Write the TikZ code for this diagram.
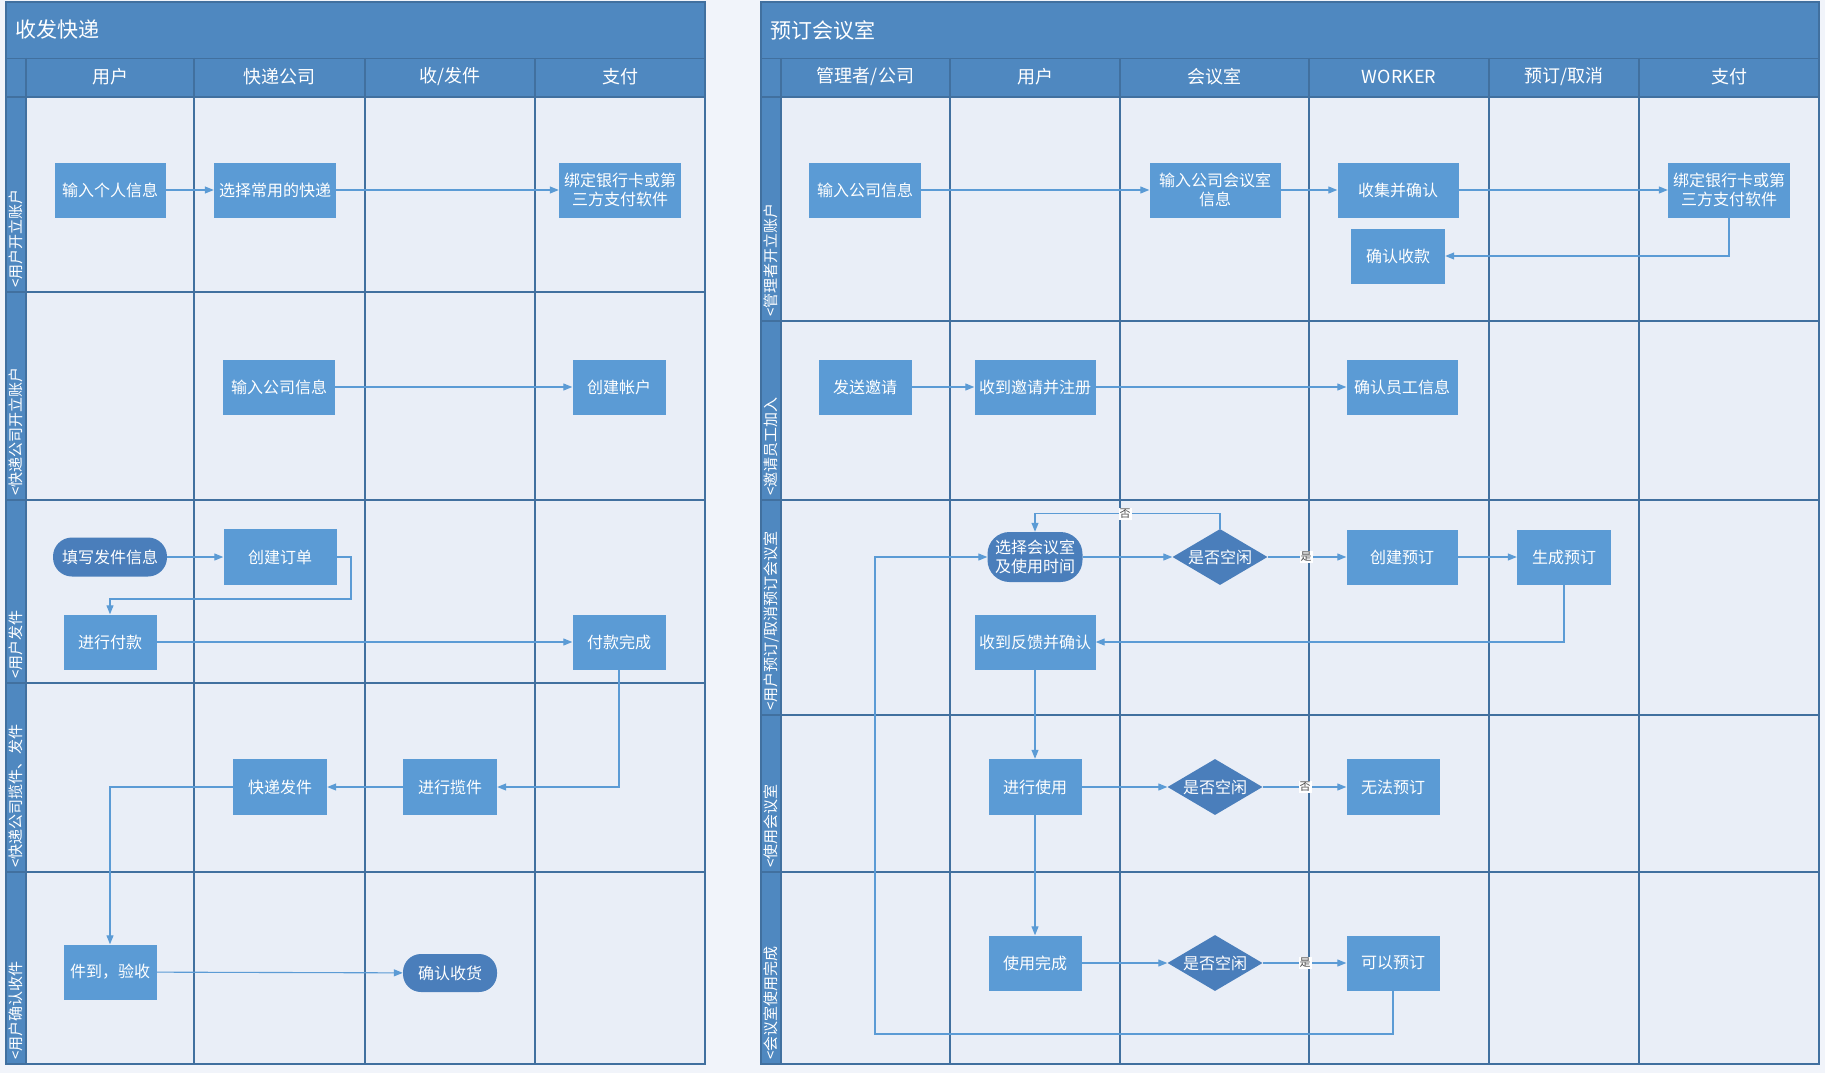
\documentclass[tikz,border=0pt]{standalone}
\usepackage{fontspec}
\setmainfont{Noto Sans CJK SC}
\usetikzlibrary{arrows.meta,shapes.geometric}
\definecolor{pagec}{HTML}{F1F4FA}
\definecolor{lanec}{HTML}{E9EEF7}
\definecolor{bandc}{HTML}{4F88C0}
\definecolor{gridc}{HTML}{41709F}
\definecolor{boxc}{HTML}{5B9BD5}
\definecolor{boxb}{HTML}{7FB0DD}
\definecolor{darkc}{HTML}{4A7EBB}
\definecolor{linec}{HTML}{5B9BD5}
\begin{document}
\begin{tikzpicture}[x=1pt,y=-1pt,
  box/.style={fill=boxc, text=white, font=\fontsize{16}{19.5}\selectfont, minimum height=55pt, inner sep=2pt, align=center},
  term/.style={fill=darkc, text=white, font=\fontsize{16}{19.5}\selectfont, inner sep=2pt, align=center},
  dia/.style={diamond, fill=darkc, text=white, font=\fontsize{16}{19.5}\selectfont, aspect=1.68, inner sep=0pt, minimum width=95pt, minimum height=56pt},
  arr/.style={draw=linec, line width=1.1pt, -{Triangle[length=9pt,width=7pt]}},
  yn/.style={fill=white, text=black!70, font=\fontsize{11}{11}\selectfont, inner sep=1pt},
  hdr/.style={text=white, font=\fontsize{18}{20}\selectfont},
  ttl/.style={text=white, font=\fontsize{21}{24}\selectfont, anchor=west},
  lanel/.style={text=white, font=\fontsize{15}{16}\selectfont, rotate=90, anchor=west, inner sep=0pt},
  gridl/.style={draw=gridc, line width=1.2pt}]
\useasboundingbox (0,0) rectangle (1825,1073);
\fill[pagec] (0,0) rectangle (1825,1073);

% ---------- left pool ----------
\fill[lanec] (26,97) rectangle (705,1064);
\fill[bandc] (6,2) rectangle (705,97);
\fill[bandc] (6,97) rectangle (26,1064);
\draw[gridc, line width=0.8pt] (6,58) -- (705,58);
\foreach \x in {26,194,365,535} \draw[gridl] (\x,58) -- (\x,1064);
\foreach \y in {97,292,500,683,872} \draw[gridl] (6,\y) -- (705,\y);
\draw[gridl] (6,2) rectangle (705,1064);
\node[ttl] (t1) at (12,30) {收发快递};
\node[hdr] (h11) at (110,77) {用户};
\node[hdr] (h12) at (279.5,77) {快递公司};
\node[hdr] (h13) at (450,77) {收/发件};
\node[hdr] (h14) at (620,77) {支付};
\node[lanel] (l11) at (16,288) {<用户开立账户};
\node[lanel] (l12) at (16,496) {<快递公司开立账户};
\node[lanel] (l13) at (16,679) {<用户发件};
\node[lanel] (l14) at (16,868) {<快递公司揽件、发件};
\node[lanel] (l15) at (16,1060) {<用户确认收件};

% ---------- right pool ----------
\fill[lanec] (781,97) rectangle (1819,1064);
\fill[bandc] (761,2) rectangle (1819,97);
\fill[bandc] (761,97) rectangle (781,1064);
\draw[gridc, line width=0.8pt] (761,58) -- (1819,58);
\foreach \x in {781,950,1120,1309,1489,1639} \draw[gridl] (\x,58) -- (\x,1064);
\foreach \y in {97,321,500,715,872} \draw[gridl] (761,\y) -- (1819,\y);
\draw[gridl] (761,2) rectangle (1819,1064);
\node[ttl] (t2) at (767,30) {预订会议室};
\node[hdr] (h21) at (865.5,77) {管理者/公司};
\node[hdr] (h22) at (1035,77) {用户};
\node[hdr] (h23) at (1214.5,77) {会议室};
\node[hdr] (h24) at (1399,77) {WORKER};
\node[hdr] (h25) at (1564,77) {预订/取消};
\node[hdr] (h26) at (1729,77) {支付};
\node[lanel] (l21) at (771,317) {<管理者开立账户};
\node[lanel] (l22) at (771,496) {<邀请员工加入};
\node[lanel] (l23) at (771,711) {<用户预订/取消预订会议室};
\node[lanel] (l24) at (771,868) {<使用会议室};
\node[lanel] (l25) at (771,1060) {<会议室使用完成};

% ---------- left nodes ----------
\node[box, minimum width=111pt] (n1) at (110,190) {输入个人信息};
\node[box, minimum width=122pt] (n2) at (275,190) {选择常用的快递};
\node[box, minimum width=122pt] (n3) at (620,190) {绑定银行卡或第\\三方支付软件};
\node[box, minimum width=112pt] (n4) at (279,387) {输入公司信息};
\node[box, minimum width=93pt] (n5) at (619,387) {创建帐户};
\node[term, minimum width=114pt, minimum height=39pt, rounded corners=19pt] (n6) at (110,557) {填写发件信息};
\node[box, minimum width=113pt, minimum height=56pt] (n7) at (280,557) {创建订单};
\node[box, minimum width=93pt] (n8) at (110,642) {进行付款};
\node[box, minimum width=93pt] (n9) at (619,642) {付款完成};
\node[box, minimum width=94pt, minimum height=56pt] (n10) at (450,787) {进行揽件};
\node[box, minimum width=94pt, minimum height=56pt] (n11) at (280,787) {快递发件};
\node[box, minimum width=93pt] (n12) at (110,972) {件到，验收};
\node[term, minimum width=94pt, minimum height=38pt, rounded corners=18pt] (n13) at (450,973) {确认收货};

\draw[arr] (n1) -- (n2);
\draw[arr] (n2) -- (n3);
\draw[arr] (n4) -- (n5);
\draw[arr] (n6) -- (n7);
\draw[arr] (n7.east) -| (351,599) -| (n8.north);
\draw[arr] (n8) -- (n9);
\draw[arr] (n9.south) |- (n10.east);
\draw[arr] (n10) -- (n11);
\draw[arr] (n11.west) -| (n12.north);
\draw[arr] (n12) -- (n13);

% ---------- right nodes ----------
\node[box, minimum width=112pt] (r1) at (865,190) {输入公司信息};
\node[box, minimum width=131pt] (r2) at (1215,190) {输入公司会议室\\信息};
\node[box, minimum width=121pt] (r3) at (1398,190) {收集并确认};
\node[box, minimum width=122pt] (r4) at (1729,190) {绑定银行卡或第\\三方支付软件};
\node[box, minimum width=94pt] (r5) at (1398,256) {确认收款};
\node[box, minimum width=93pt] (r6) at (865,387) {发送邀请};
\node[box, minimum width=121pt] (r7) at (1035,387) {收到邀请并注册};
\node[box, minimum width=111pt] (r8) at (1402,387) {确认员工信息};
\node[term, minimum width=95pt, minimum height=50pt, rounded corners=22pt] (r9) at (1035,557) {选择会议室\\及使用时间};
\node[dia] (r10) at (1220,557) {\makebox[0pt]{是否空闲}};
\node[box, minimum width=111pt] (r11) at (1402,557) {创建预订};
\node[box, minimum width=94pt] (r12) at (1564,557) {生成预订};
\node[box, minimum width=121pt] (r13) at (1035,642) {收到反馈并确认};
\node[box, minimum width=93pt, minimum height=56pt] (r14) at (1035,787) {进行使用};
\node[dia] (r15) at (1215,787) {\makebox[0pt]{是否空闲}};
\node[box, minimum width=93pt, minimum height=56pt] (r16) at (1393,787) {无法预订};
\node[box, minimum width=93pt] (r17) at (1035,963) {使用完成};
\node[dia] (r18) at (1215,963) {\makebox[0pt]{是否空闲}};
\node[box, minimum width=93pt] (r19) at (1393,963) {可以预订};

\draw[arr] (r1) -- (r2);
\draw[arr] (r2) -- (r3);
\draw[arr] (r3) -- (r4);
\draw[arr] (r4.south) |- (r5.east);
\draw[arr] (r6) -- (r7);
\draw[arr] (r7) -- (r8);
\draw[arr] (r9) -- (r10);
\draw[arr] (r10.north) -- ++(0,-15) -| (r9.north);
\node[yn] (y1) at (1125,514) {否};
\draw[arr] (r10) -- (r11);
\node[yn] (y2) at (1306,557) {是};
\draw[arr] (r11) -- (r12);
\draw[arr] (r12.south) |- (r13.east);
\draw[arr] (r13) -- (r14);
\draw[arr] (r14) -- (r17);
\draw[arr] (r14) -- (r15);
\draw[arr] (r15) -- (r16);
\node[yn] (y3) at (1305,787) {否};
\draw[arr] (r17) -- (r18);
\draw[arr] (r18) -- (r19);
\node[yn] (y4) at (1305,963) {是};
\draw[arr] (r19.south) |- (875,1034) |- (r9.west);
\end{tikzpicture}
\end{document}
